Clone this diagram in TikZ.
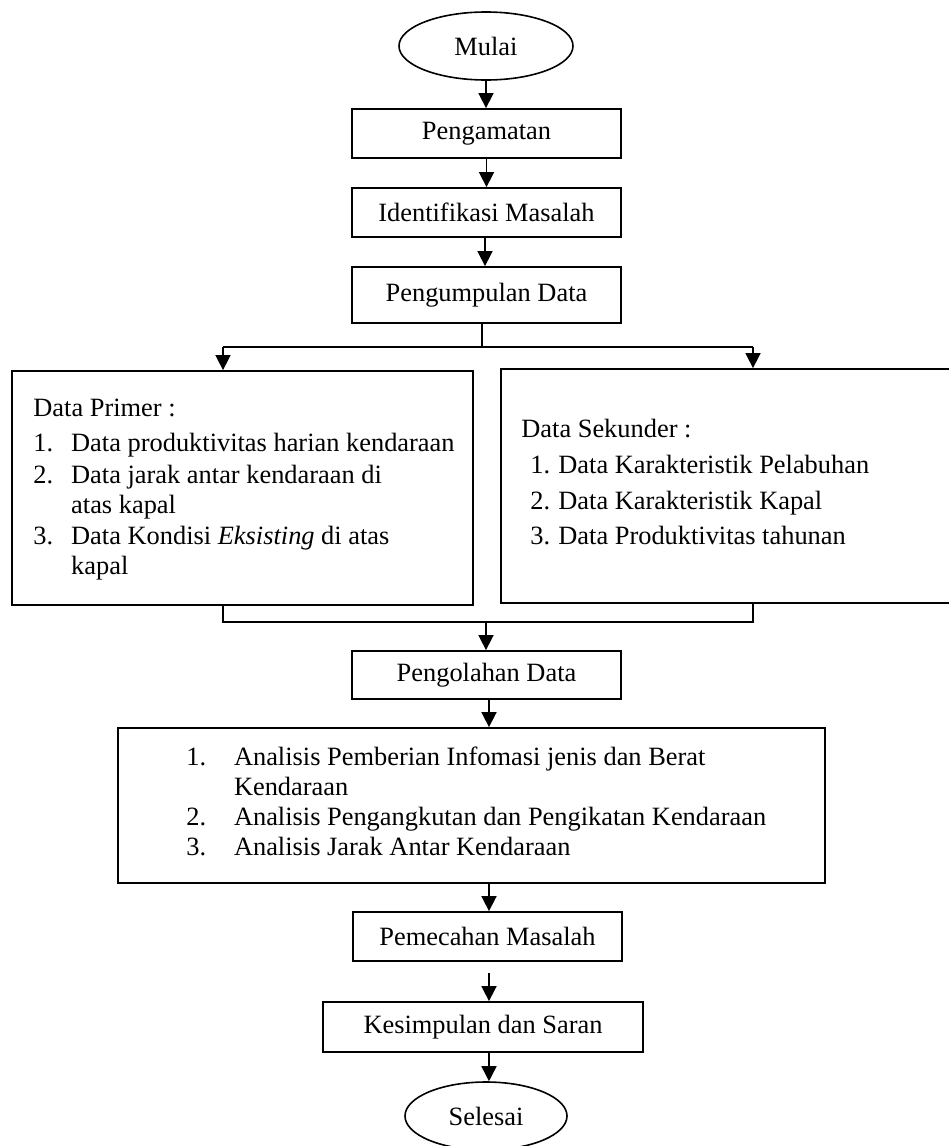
\documentclass[tikz,border=0pt]{standalone}
\usepackage{fontspec}
\setmainfont{Liberation Serif}
\usetikzlibrary{arrows.meta,shapes.geometric}
\begin{document}
\begin{tikzpicture}[x=0.5pt,y=-0.5pt,
  every node/.style={font=\fontsize{13.2}{15}\selectfont},
  box/.style={draw,line width=0.9pt,rectangle,inner sep=0pt},
  term/.style={draw,line width=0.8pt,ellipse,inner sep=0pt},
  arr/.style={line width=0.8pt,-{Triangle[length=7.5pt,width=7.5pt]}},
  ln/.style={line width=0.8pt},
  txt/.style={inner sep=0pt,anchor=west}]
\useasboundingbox (0,0) rectangle (948,1146);
\node[term,minimum width=87pt,minimum height=34pt] (mulai) at (486,46) {Mulai};
\node[box,minimum width=134.5pt,minimum height=24.5pt] (pengamatan) at (486.5,133.5) {Pengamatan};
\node[box,minimum width=134.5pt,minimum height=24.5pt] (identifikasi) at (486.5,212.5) {Identifikasi Masalah};
\node[box,minimum width=134.5pt,minimum height=28pt] (pengumpulan) at (486.5,295) {Pengumpulan Data};
\node[box,minimum width=230.5pt,minimum height=117pt] (primer) at (242.5,488) {};
\node[box,minimum width=229.5pt,minimum height=117pt] (sekunder) at (730.5,486) {};
\node[box,minimum width=134.5pt,minimum height=24pt] (pengolahan) at (486.5,675) {Pengolahan Data};
\node[box,minimum width=353.5pt,minimum height=77.5pt] (analisis) at (471.5,805.5) {};
\node[box,minimum width=134.5pt,minimum height=24.5pt] (pemecahan) at (487.5,936.5) {Pemecahan Masalah};
\node[box,minimum width=160pt,minimum height=25pt] (kesimpulan) at (483,1027) {Kesimpulan dan Saran};
\node[term,minimum width=81pt,minimum height=34pt] (selesai) at (486,1116) {Selesai};

\node[txt] (primertext) at (33,489) {\begin{tabular}{@{}p{18.9pt}@{}l@{}}
\multicolumn{2}{@{}l@{}}{Data Primer :}\\[2.5pt]
1. & Data produktivitas harian kendaraan\\[1pt]
2. & Data jarak antar kendaraan di\\
 & atas kapal\\[0.5pt]
3. & Data Kondisi \textit{Eksisting} di atas\\
 & kapal
\end{tabular}};
\node[txt] (sekundertext) at (521,485) {\begin{tabular}{@{}p{18.5pt}@{}l@{}}
\multicolumn{2}{@{}l@{}}{Data Sekunder :}\\[2.75pt]
\hspace*{4.5pt}1. & Data Karakteristik Pelabuhan\\[3pt]
\hspace*{4.5pt}2. & Data Karakteristik Kapal\\[2.75pt]
\hspace*{4.5pt}3. & Data Produktivitas tahunan
\end{tabular}};
\node[txt] (analisistext) at (186,804) {\begin{tabular}{@{}p{23.8pt}@{}l@{}}
1. & Analisis Pemberian Infomasi jenis dan Berat\\
 & Kendaraan\\
2. & Analisis Pengangkutan dan Pengikatan Kendaraan\\
3. & Analisis Jarak Antar Kendaraan
\end{tabular}};

\draw[arr] (mulai.south) -- (mulai.south |- pengamatan.north);
\draw[arr] (pengamatan.south) -- (identifikasi.north);
\coordinate (ix) at (485,0);
\draw[arr] (ix |- identifikasi.south) -- (ix |- pengumpulan.north);
\coordinate (split) at (482,347);
\coordinate (sl) at (223,347);
\coordinate (sr) at (753,347);
\draw[ln] (split |- pengumpulan.south) -- (split);
\draw[ln] (sl) -- (sr);
\draw[arr] (sl) -- (sl |- primer.north);
\draw[arr] (sr) -- (sr |- sekunder.north);
\coordinate (ml) at (223,622);
\coordinate (mr) at (753,622);
\coordinate (mc) at (486,622);
\draw[ln] (ml |- primer.south) -- (ml) -- (mr) -- (mr |- sekunder.south);
\draw[arr] (mc) -- (mc |- pengolahan.north);
\coordinate (ax) at (489,0);
\draw[arr] (ax |- pengolahan.south) -- (ax |- analisis.north);
\draw[arr] (ax |- analisis.south) -- (ax |- pemecahan.north);
\coordinate (gap) at (489,973);
\draw[arr] (gap) -- (gap |- kesimpulan.north);
\draw[arr] (ax |- kesimpulan.south) -- (ax |- selesai.north);
\end{tikzpicture}
\end{document}
